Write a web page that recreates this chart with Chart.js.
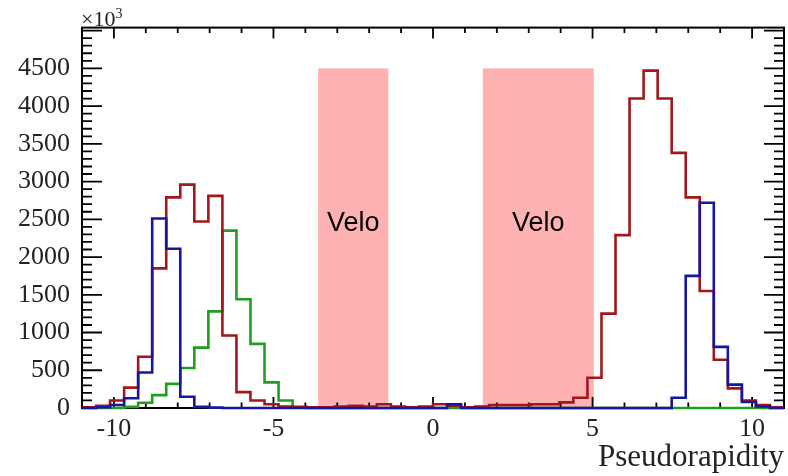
<!DOCTYPE html>
<html>
<head>
<meta charset="utf-8">
<script src="https://cdn.jsdelivr.net/npm/chart.js@4.4.1/dist/chart.umd.min.js"></script>
<style>
  html, body { margin: 0; padding: 0; background: #fff; }
  #wrap { width: 788px; height: 476px; }
</style>
</head>
<body>
<div id="wrap"><canvas id="eta-chart" width="788" height="476"></canvas></div>
<script>
// histogram binning: 50 bins from -11 to 11
const binLow = -11;
const binWidth = 0.44;

// counts per bin (x10^3)
const redCounts = [10, 30, 100, 270, 680, 1850, 2790, 2960, 2470, 2810,
                   960, 210, 100, 50, 20, 15, 10, 10, 20, 30,
                   20, 50, 20, 10, 20, 50, 30, 10, 20, 40,
                   40, 40, 50, 50, 75, 135, 400, 1250, 2290, 4100,
                   4470, 4100, 3380, 2790, 1550, 640, 260, 100, 40, 10];
const blueCounts = [0, 10, 40, 130, 470, 2510, 2110, 150, 15, 5,
                    0, 0, 0, 0, 0, 0, 0, 0, 0, 0,
                    0, 0, 0, 0, 0, 0, 50, 0, 0, 0,
                    0, 0, 0, 0, 0, 0, 0, 0, 0, 0,
                    0, 0, 135, 1750, 2720, 810, 310, 80, 20, 0];
const greenCounts = [0, 0, 0, 15, 70, 170, 320, 530, 800, 1280,
                     2350, 1440, 850, 340, 100, 10, 0, 0, 0, 0,
                     0, 0, 0, 0, 0, 0, 0, 0, 0, 0,
                     0, 0, 0, 0, 0, 0, 0, 0, 0, 0,
                     0, 0, 0, 0, 0, 0, 0, 0, 0, 0];

const xTicks = [-10, -5, 0, 5, 10];
const yTicks = [0, 500, 1000, 1500, 2000, 2500, 3000, 3500, 4000, 4500];

// shaded Velo regions
const veloRanges = [[-3.6, -1.4], [1.56, 5.04]];
const veloTop = 4500;

const serif = "'Liberation Serif', 'DejaVu Serif', serif";

// step points at bin edges (last point closes the final bin)
function toSteps(counts) {
    const pts = counts.map((c, i) => ({ x: binLow + i * binWidth, y: c }));
    pts.push({ x: binLow + counts.length * binWidth, y: counts[counts.length - 1] });
    return pts;
}

const rootFrame = {
    id: 'rootFrame',
    beforeDatasetsDraw(chart) {
        const { ctx, chartArea: a, scales: { x, y } } = chart;
        ctx.save();
        // Velo boxes
        ctx.fillStyle = '#ffb2b2';
        veloRanges.forEach(r => {
            const x0 = x.getPixelForValue(r[0]);
            const x1 = x.getPixelForValue(r[1]);
            const yt = y.getPixelForValue(veloTop);
            ctx.fillRect(x0, yt, x1 - x0, a.bottom - yt);
            ctx.fillStyle = '#000';
            ctx.font = "27px 'Liberation Sans', Arial, sans-serif";
            ctx.textAlign = 'center';
            ctx.textBaseline = 'middle';
            ctx.fillText('Velo', (x0 + x1) / 2, y.getPixelForValue(2450));
            ctx.fillStyle = '#ffb2b2';
        });

        // frame
        ctx.strokeStyle = '#000';
        ctx.lineWidth = 2;
        ctx.strokeRect(a.left, a.top, a.right - a.left, a.bottom - a.top);

        // x ticks (inside, top and bottom)
        ctx.lineWidth = 1.8;
        ctx.beginPath();
        for (let v = -11; v <= 11; v++) {
            const px = x.getPixelForValue(v);
            const len = v % 5 === 0 ? 11 : 5.5;
            ctx.moveTo(px, a.bottom);
            ctx.lineTo(px, a.bottom - len);
            ctx.moveTo(px, a.top);
            ctx.lineTo(px, a.top + len);
        }
        // y ticks (inside, left and right)
        for (let v = 0; v <= 5000; v += 100) {
            const py = y.getPixelForValue(v);
            if (py < a.top) break;
            const len = v % 500 === 0 ? 20 : 10;
            ctx.moveTo(a.left, py);
            ctx.lineTo(a.left + len, py);
            ctx.moveTo(a.right, py);
            ctx.lineTo(a.right - len, py);
        }
        ctx.stroke();

        // exponent label
        ctx.fillStyle = '#222';
        ctx.textAlign = 'left';
        ctx.textBaseline = 'alphabetic';
        ctx.font = '22px ' + serif;
        ctx.fillText('\u00d710', a.left - 1, a.top - 2);
        const w = ctx.measureText('\u00d710').width;
        ctx.font = '14px ' + serif;
        ctx.fillText('3', a.left - 1 + w, a.top - 10);
        ctx.restore();
    }
};

const ctx = document.getElementById('eta-chart').getContext('2d');
new Chart(ctx, {
    type: 'line',
    data: {
        datasets: [
            {
                label: 'blue',
                data: toSteps(blueCounts),
                borderColor: '#16169e',
                order: 0
            },
            {
                label: 'red',
                data: toSteps(redCounts),
                borderColor: '#a3161a',
                order: 1
            },
            {
                label: 'green',
                data: toSteps(greenCounts),
                borderColor: '#1ea01e',
                order: 2
            }
        ]
    },
    options: {
        responsive: false,
        animation: false,
        events: [],
        datasets: {
            line: {
                stepped: 'before',
                borderWidth: 2.6,
                pointRadius: 0,
                fill: false,
                clip: false,
                tension: 0
            }
        },
        layout: { padding: { top: 21, right: 4, left: 0, bottom: 0 } },
        plugins: {
            legend: { display: false },
            tooltip: { enabled: false }
        },
        scales: {
            x: {
                type: 'linear',
                min: -11,
                max: 11,
                afterBuildTicks: s => { s.ticks = xTicks.map(v => ({ value: v })); },
                afterFit: s => { s.height = 68; },
                grid: { display: false, drawTicks: false },
                border: { display: false },
                ticks: {
                    padding: 6,
                    color: '#222',
                    font: { family: serif, size: 26 },
                    maxRotation: 0,
                    callback: v => String(v)
                },
                title: {
                    display: true,
                    text: 'Pseudorapidity',
                    align: 'end',
                    color: '#222',
                    font: { family: serif, size: 31 },
                    padding: { top: 0, bottom: 0 }
                }
            },
            y: {
                min: 0,
                max: 5040,
                afterBuildTicks: s => { s.ticks = yTicks.map(v => ({ value: v })); },
                afterFit: s => { s.width = 82; },
                grid: { display: false, drawTicks: false },
                border: { display: false },
                ticks: {
                    padding: 12,
                    color: '#222',
                    font: { family: serif, size: 26 },
                    callback: v => String(v)
                }
            }
        }
    },
    plugins: [rootFrame]
});
</script>
</body>
</html>
